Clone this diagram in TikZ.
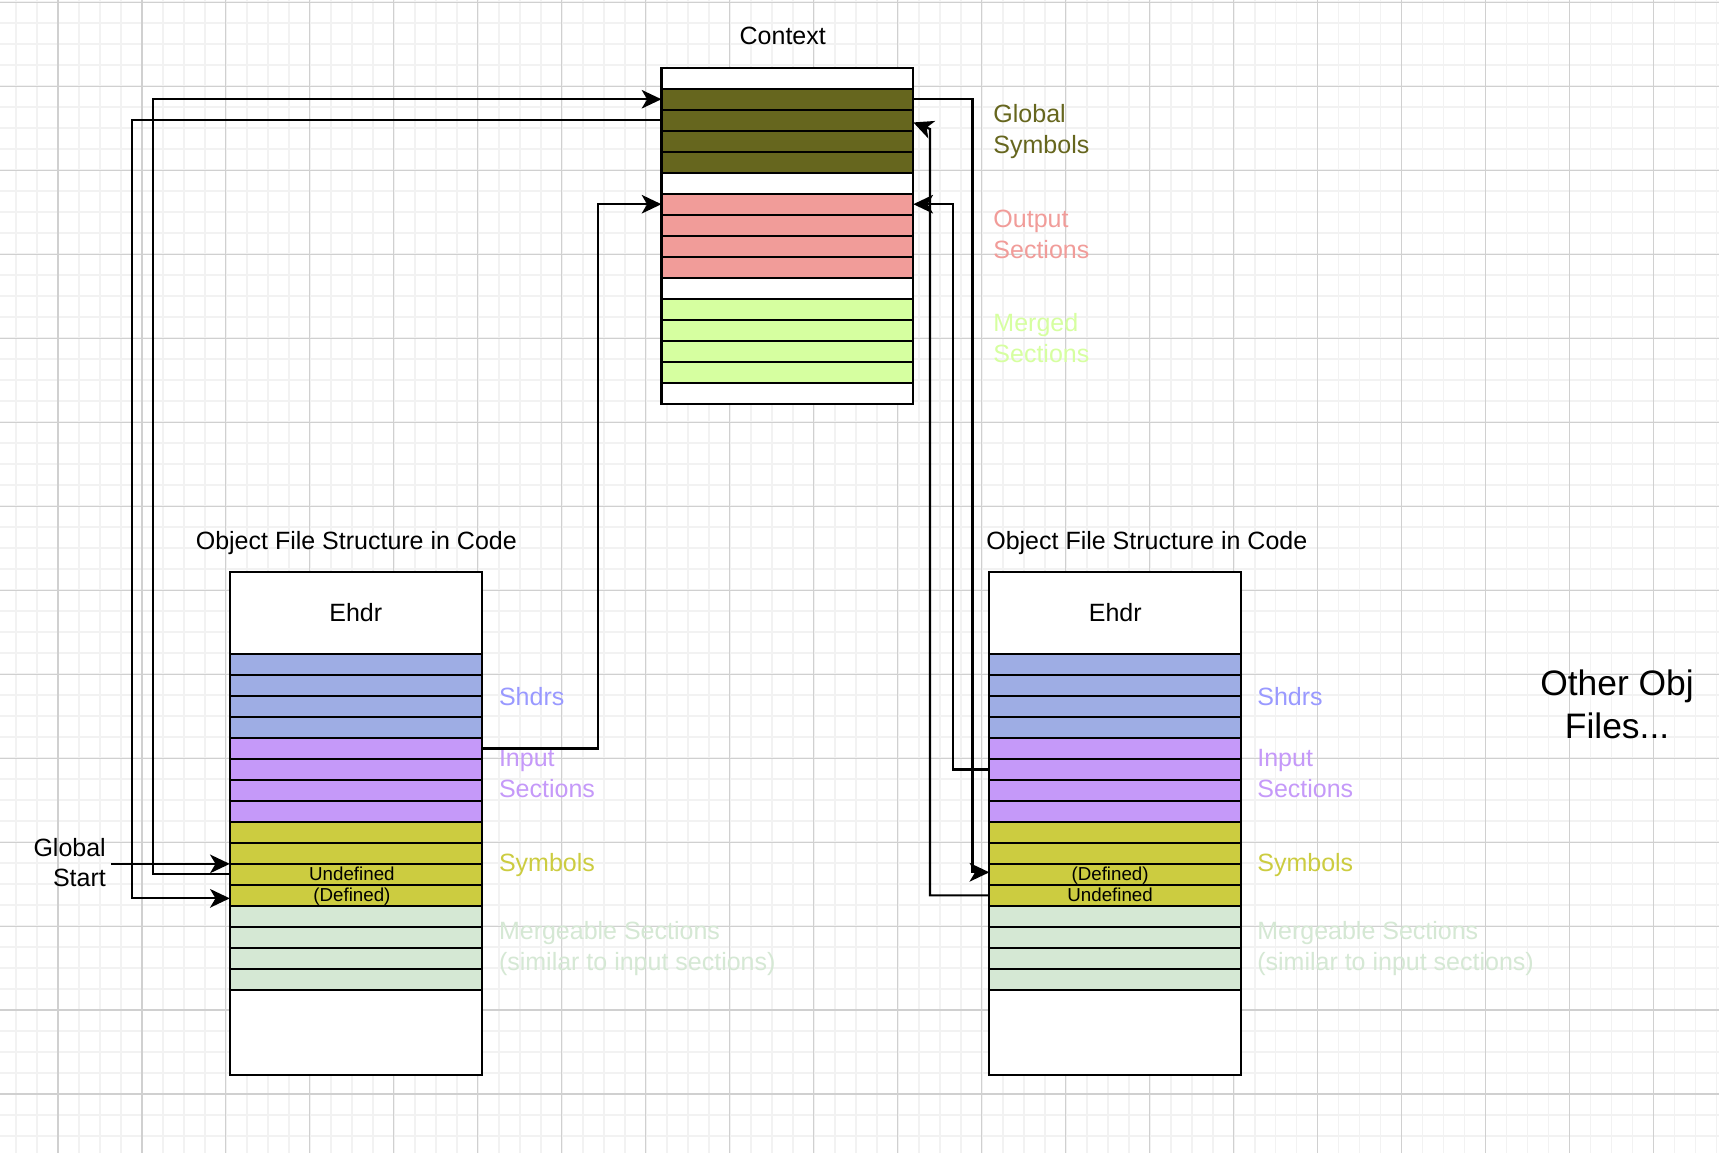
\documentclass[tikz,border=0pt]{standalone}
\usepackage{fontspec}
\setmainfont{Liberation Sans}
\usetikzlibrary{arrows.meta,calc}

\definecolor{gsym}{RGB}{102,102,30}
\definecolor{osec}{RGB}{241,156,153}
\definecolor{msec}{RGB}{214,255,160}
\definecolor{shdr}{RGB}{158,173,228}
\definecolor{shdrtxt}{RGB}{153,153,255}
\definecolor{isec}{RGB}{197,153,249}
\definecolor{sym}{RGB}{204,204,64}
\definecolor{mgbl}{RGB}{213,232,212}
\definecolor{gridminor}{RGB}{242,242,242}
\definecolor{gridmajor}{RGB}{208,208,208}

\tikzset{
  cellbox/.style={draw=black, line width=2pt, minimum width=229.8pt, minimum height=19.15pt, inner sep=0pt, outer sep=0pt},
  lbl/.style={anchor=base west, align=left, inner sep=0pt},
  small/.style={anchor=base, inner sep=0pt, font=\fontsize{17.1pt}{20pt}\selectfont},
  conn/.style={line width=2pt, -{Stealth[length=18pt, width=17pt, inset=5pt]}}
}

\begin{document}
\begin{tikzpicture}[x=1pt, y=-1pt, font=\fontsize{22.8pt}{28pt}\selectfont]
  %%%%% GRID %%%%%
  \useasboundingbox (0,0) rectangle (1568,1052);
  \fill[white] (0,0) rectangle (1568,1052);
  \foreach \i in {0,...,81} \draw[gridminor, line width=1.5pt] ({14.6+19.15*\i},0) -- ({14.6+19.15*\i},1052);
  \foreach \i in {0,...,54} \draw[gridminor, line width=1.5pt] (0,{2.1+19.15*\i}) -- (1568,{2.1+19.15*\i});
  \foreach \i in {0,...,19} \draw[gridmajor, line width=1pt] ({52.9+76.6*\i},0) -- ({52.9+76.6*\i},1052);
  \foreach \i in {0,...,13} \draw[gridmajor, line width=1pt] (0,{2.1+76.6*\i}) -- (1568,{2.1+76.6*\i});

  %%%%% CONTEXT %%%%%
  \node[lbl, anchor=base] (ctxlbl) at (714,41) {Context};
  \foreach \c [count=\i from 0] in {white,gsym,gsym,gsym,gsym,white,osec,osec,osec,osec,white,msec,msec,msec,msec,white}
    \node[cellbox, fill=\c] (ctx\i) at (718.2,{61.8+19.15*(\i+0.5)}) {};
  \node[lbl, text=gsym] (gsymlbl) at (906,139.9) {Global\\Symbols};
  \node[lbl, text=osec] (oseclbl) at (906,235.6) {Output\\Sections};
  \node[lbl, text=msec] (mseclbl) at (906,330.8) {Merged\\Sections};

  %%%%% OBJECT FILES %%%%%
  \node[lbl, anchor=base] (ltitle) at (325,501) {Object File Structure in Code};
  \node[lbl] (rtitle) at (899.5,501) {Object File Structure in Code};
  \node[cellbox, minimum height=75pt, fill=white] (lehdr) at (324.5,559) {Ehdr};
  \node[cellbox, minimum height=75pt, fill=white] (rehdr) at (1017.3,559) {Ehdr};
  \foreach \c [count=\i] in {shdr,shdr,shdr,shdr,isec,isec,isec,isec,sym,sym,sym,sym,mgbl,mgbl,mgbl,mgbl} {
    \node[cellbox, fill=\c] (lo\i) at (324.5,{596.5+19.15*(\i-0.5)}) {};
    \node[cellbox, fill=\c] (ro\i) at (1017.3,{596.5+19.15*(\i-0.5)}) {};
  }
  \node[cellbox, minimum height=77.6pt, fill=white] (lbot) at (324.5,941.7) {};
  \node[cellbox, minimum height=77.6pt, fill=white] (rbot) at (1017.3,941.7) {};

  \node[small] (lundef) at (321,802.7) {Undefined};
  \node[small] (ldef) at (321,821.9) {(Defined)};
  \node[small] (rdef) at (1012.6,802.7) {(Defined)};
  \node[small] (rundef) at (1012.6,821.9) {Undefined};

  \node[lbl, text=shdrtxt] (lshdr) at (455,643.7) {Shdrs};
  \node[lbl, text=isec] (lisec) at (455,727.6) {Input\\Sections};
  \node[lbl, text=sym] (lsym) at (455,795.1) {Symbols};
  \node[lbl, text=mgbl] (lmgbl) at (455,884.8) {Mergeable Sections\\(similar to input sections)};
  \node[lbl, text=shdrtxt] (rshdr) at (1146.7,643.7) {Shdrs};
  \node[lbl, text=isec] (risec) at (1146.7,727.6) {Input\\Sections};
  \node[lbl, text=sym] (rsym) at (1146.7,795.1) {Symbols};
  \node[lbl, text=mgbl] (rmgbl) at (1146.7,884.8) {Mergeable Sections\\(similar to input sections)};

  \node[lbl, anchor=base, align=center, font=\fontsize{32.3pt}{39pt}\selectfont] (others) at (1475,673.5) {Other Obj\\Files...};
  \node[lbl, anchor=base east, align=right] (gstart) at (96.7,808.8) {Global\\Start};
  \coordinate (gsin) at ($(gstart.east)+(5,0)$);

  %%%%% LINKS %%%%%
  \draw[conn] (gsin |- lo11.north west) -- (lo11.north west);
  \draw[conn] (lo11.west) -- ++(-70.3,0) |- (ctx1.west);
  \draw[conn] (ctx2.west) -| ($(lo12.west)+(-89.5,2.7)$) -- ($(lo12.west)+(0,2.7)$);
  \draw[conn] (lo5.east) -- ++(106.4,0) |- (ctx6.west);
  \draw[conn] (ctx1.east) -- ++(53.9,0) |- ([yshift=1.9pt]ro11.west);
  \draw[conn] (ro12.west) -| ($(ctx2.east)+(15.2,8)$) -- ($(ctx2.east)+(0,2)$);
  \draw[conn] (ro6.west) -- ++(-32.8,0) |- (ctx6.east);
\end{tikzpicture}
\end{document}
